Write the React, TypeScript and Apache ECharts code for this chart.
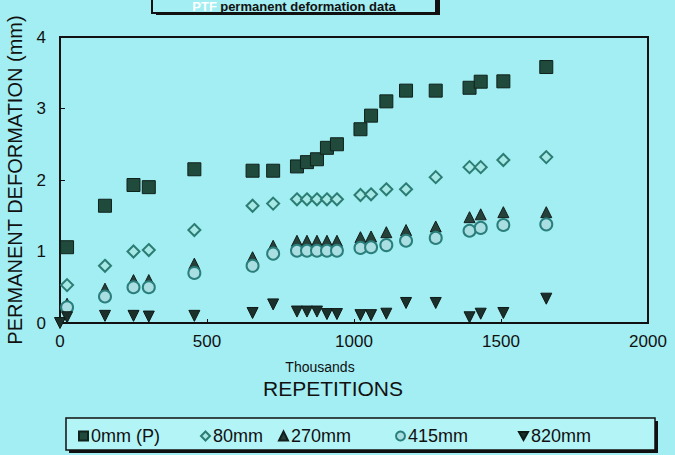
import React, { useEffect, useRef } from "react";
import * as echarts from "echarts";

// Repetitions (thousands) shared by all series
const repetitions = [24, 153, 250, 302, 457, 655, 725, 806, 840, 874, 908, 942, 1022, 1058, 1110, 1177, 1278, 1393, 1431, 1508, 1654];
const def0mmP = [1.06, 1.64, 1.93, 1.9, 2.15, 2.13, 2.13, 2.19, 2.25, 2.29, 2.45, 2.5, 2.71, 2.9, 3.1, 3.25, 3.25, 3.29, 3.375, 3.38, 3.58];
const def80mm = [0.53, 0.8, 1.0, 1.02, 1.3, 1.64, 1.67, 1.73, 1.73, 1.73, 1.73, 1.73, 1.79, 1.8, 1.87, 1.87, 2.04, 2.18, 2.18, 2.28, 2.32];
const def270mm = [0.27, 0.48, 0.6, 0.6, 0.83, 0.92, 1.08, 1.15, 1.15, 1.15, 1.15, 1.15, 1.2, 1.21, 1.27, 1.3, 1.35, 1.48, 1.52, 1.55, 1.55];
const def415mm = [0.22, 0.37, 0.5, 0.5, 0.7, 0.8, 0.97, 1.01, 1.01, 1.01, 1.01, 1.01, 1.05, 1.06, 1.09, 1.15, 1.19, 1.29, 1.33, 1.37, 1.38];
const def820mm = [0.08, 0.1, 0.1, 0.09, 0.1, 0.14, 0.26, 0.16, 0.16, 0.16, 0.125, 0.125, 0.11, 0.11, 0.13, 0.28, 0.28, 0.08, 0.13, 0.14, 0.34];
const extra820x = [0];
const extra820y = [0];

const seriesNames = ["0mm (P)", "80mm", "270mm", "415mm", "820mm"];
const titleText = ["PTF", "permanent deformation data"];

const BG = "#a2eef2";
const FONT = "Liberation Sans, Arial, sans-serif";
const DOWN_TRI = "path://M0,0L10,0L5,9Z";

function pairs(xs: number[], ys: number[]) {
  return xs.map((x, i) => [x, ys[i]]);
}

export default function App() {
  const ref = useRef<HTMLDivElement>(null);
  useEffect(() => {
    if (!ref.current) return;
    const chart = echarts.init(ref.current, undefined, { renderer: "svg" });
    const sym = [
      { symbol: "rect", size: 13, color: "#1f4a3c", border: "#10221c", bw: 1 },
      { symbol: "diamond", size: 12, color: "#a6e8e6", border: "#2b7d74", bw: 2 },
      { symbol: "triangle", size: 11, color: "#26403a", border: "#121f1c", bw: 1 },
      { symbol: "circle", size: 12, color: "#a9dfe2", border: "#2a7f7c", bw: 2 },
      { symbol: DOWN_TRI, size: 11, color: "#1c302b", border: "#0f1a17", bw: 1 },
    ];
    const dataSets = [
      pairs(repetitions, def0mmP),
      pairs(repetitions, def80mm),
      pairs(repetitions, def270mm),
      pairs(repetitions, def415mm),
      pairs(extra820x, extra820y).concat(pairs(repetitions, def820mm)),
    ];
    const legendLefts = [73, 195, 273, 390, 513];
    const option: any = {
      animation: false,
      backgroundColor: BG,
      textStyle: { fontFamily: FONT },
      grid: {
        left: 60, right: 27, top: 37, bottom: 132,
        outerBoundsMode: "none", containLabel: false,
        show: true, borderColor: "#111", borderWidth: 2, backgroundColor: BG,
      },
      xAxis: {
        type: "value", min: 0, max: 2000, interval: 500,
        name: "Thousands", nameLocation: "middle", nameGap: 37,
        nameTextStyle: { fontSize: 14, color: "#111", fontFamily: FONT, padding: [0, 68, 0, 0] },
        axisLine: { show: true, lineStyle: { color: "#111", width: 2 } },
        axisTick: { show: true, inside: true, length: 4, lineStyle: { color: "#111" } },
        axisLabel: { fontSize: 17, color: "#111", margin: 10, fontFamily: FONT, formatter: (v: number) => String(v) },
        splitLine: { show: false },
      },
      yAxis: {
        type: "value", min: 0, max: 4, interval: 1,
        name: "PERMANENT DEFORMATION (mm)", nameLocation: "middle", nameGap: 35,
        nameTextStyle: { fontSize: 20, color: "#111", fontFamily: FONT },
        axisLine: { show: true, lineStyle: { color: "#111", width: 2 } },
        axisTick: { show: true, inside: true, length: 5, lineStyle: { color: "#111" } },
        axisLabel: { fontSize: 17, color: "#111", margin: 14, fontFamily: FONT },
        splitLine: { show: false },
      },
      legend: seriesNames.map((n, i) => ({
        data: [n],
        left: legendLefts[i], top: 422,
        itemWidth: 9, itemHeight: 9, itemGap: 4,
        textStyle: { fontSize: 18, color: "#111", fontFamily: FONT, padding: [0, 0, 0, -2] },
        selectedMode: false,
      })),
      graphic: [
        {
          type: "rect", z: -1, shape: { x: 69, y: 421, width: 589, height: 32 },
          style: { fill: "#111" },
        },
        {
          type: "rect", z: 0, shape: { x: 66, y: 418, width: 589, height: 32 },
          style: { fill: "#b3f4f7", stroke: "#111", lineWidth: 1.5 },
        },
        {
          type: "rect", z: 0, shape: { x: 156, y: -6, width: 284, height: 21 },
          style: { fill: "#111" },
        },
        {
          type: "rect", z: 1, shape: { x: 152, y: -8, width: 284, height: 21 },
          style: { fill: BG, stroke: "#111", lineWidth: 2 },
        },
        {
          type: "text", z: 2, x: 294, y: 6,
          style: {
            text: `{w|${titleText[0]}} {b|${titleText[1]}}`,
            align: "center", verticalAlign: "middle",
            rich: {
              w: { fontSize: 13, fontWeight: "bold", fill: "#ffffff", fontFamily: FONT },
              b: { fontSize: 13, fontWeight: "bold", fill: "#111", fontFamily: FONT },
            },
          },
        },
        {
          type: "text", x: 333, y: 388,
          style: { text: "REPETITIONS", fontSize: 21, fill: "#111", fontFamily: FONT, align: "center", verticalAlign: "middle" },
        },
      ],
      series: dataSets.map((d, i) => ({
        type: "scatter",
        name: seriesNames[i],
        data: d,
        symbol: sym[i].symbol,
        symbolSize: sym[i].size,
        clip: false,
        itemStyle: { color: sym[i].color, borderColor: sym[i].border, borderWidth: sym[i].bw, opacity: 1 },
      })),
    };
    chart.setOption(option);
    return () => chart.dispose();
  }, []);
  return <div ref={ref} style={{ width: 675, height: 455, position: "absolute", left: 0, top: 0 }} />;
}
